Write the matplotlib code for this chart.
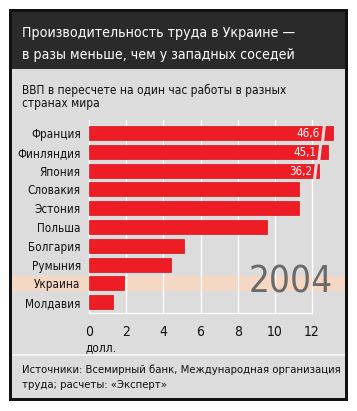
import matplotlib
matplotlib.use('Agg')
import matplotlib.pyplot as plt
from matplotlib.patches import Rectangle
from matplotlib.transforms import blended_transform_factory

plt.rcParams['font.family'] = ['DejaVu Sans']
plt.rcParams['font.stretch'] = 'condensed'

# данные
countries = ['Франция', 'Финляндия', 'Япония', 'Словакия', 'Эстония',
             'Польша', 'Болгария', 'Румыния', 'Украина', 'Молдавия']
gdp_hour = [46.6, 45.1, 36.2, 11.3, 11.3, 9.6, 5.1, 4.4, 1.9, 1.3]
# как нарисованы "обрезанные" столбики: (где разрыв, где конец)
broken = {'Франция': (12.55, 13.15), 'Финляндия': (12.35, 12.88), 'Япония': (12.12, 12.35)}
labels = {'Франция': '46,6', 'Финляндия': '45,1', 'Япония': '36,2'}
ticks = [0, 2, 4, 6, 8, 10, 12]
highlight = 'Украина'

W, H = 357, 411
fig = plt.figure(figsize=(W / 100, H / 100), dpi=100)
fig.patch.set_facecolor('white')

def box(x0, y0, x1, y1, color):
    # прямоугольник в пикселях (сверху вниз)
    fig.patches.append(Rectangle((x0 / W, 1 - y1 / H), (x1 - x0) / W, (y1 - y0) / H,
                                 transform=fig.transFigure, facecolor=color,
                                 edgecolor='none', zorder=-5))

def txt(x, y, s, size, color='#111111', **kw):
    fig.text(x / W, 1 - y / H, s, color=color, fontsize=size, va='baseline', ha='left', **kw)

panel = '#dcdcdc'
box(9, 9, 348, 401, '#111111')
box(12, 69, 345, 398, panel)
box(12, 12, 345, 69, '#2a2a2a')
box(12, 354, 345, 355.5, '#f2f2f2')

txt(22, 37, 'Производительность труда в Украине —', 10.2, 'white')
txt(22, 59, 'в разы меньше, чем у западных соседей', 10.2, 'white')
txt(22, 94, 'ВВП в пересчете на один час работы в разных', 8.6)
txt(22, 107, 'странах мира', 8.6)
txt(22, 373, 'Источники: Всемирный банк, Международная организация', 8.1)
txt(22, 388, 'труда; расчеты: «Эксперт»', 8.1)

# оси: 0 -> 89px, 12 -> 312px
unit = (312 - 89) / 12
xmax = 13.6
top, bottom, pitch = 120, 313, 18.8
ax = fig.add_axes([89 / W, 1 - bottom / H, xmax * unit / W, (bottom - top) / H])
ax.set_facecolor('none')
ax.set_xlim(0, xmax)
ylo = -(133 - top) / pitch
yhi = 9 + (bottom - 302.2) / pitch
ax.set_ylim(yhi, ylo)
for s in ax.spines.values():
    s.set_visible(False)

# подсветка строки Украины
yi = countries.index(highlight)
tr = blended_transform_factory(fig.transFigure, ax.transData)
ax.add_patch(Rectangle((12 / W, yi - 0.38), 333 / W, 0.76, transform=tr,
                       facecolor='#f5d8c4', edgecolor='none', clip_on=False, zorder=0))

# сетка
for t in ticks:
    ax.plot([t, t], [ylo, yhi], color='white', lw=1, zorder=1, clip_on=False)
ax.plot([0, 12], [yhi, yhi], color='white', lw=1, zorder=1, clip_on=False)

red = '#ee1c25'
for i, (c, v) in enumerate(zip(countries, gdp_hour)):
    length = broken[c][1] if c in broken else v
    ax.barh(i, length, height=0.74, color=red, edgecolor='#d0101a', lw=0.5, zorder=2, clip_on=False)
    if c in broken:
        b = broken[c][0]
        ax.plot([b + 0.02, b + 0.12], [i + 0.45, i - 0.45], color=panel, lw=2.2,
                zorder=3, solid_capstyle='butt', clip_on=False)
        ax.text(b - 0.12, i + 0.05, labels[c], color='white', fontsize=8.3,
                ha='right', va='center', zorder=4)

ax.set_yticks(range(len(countries)))
ax.set_yticklabels(countries, fontsize=8.4, color='#111111')
ax.set_xticks(ticks)
ax.set_xticklabels([str(t) for t in ticks], fontsize=10, color='#111111')
ax.tick_params(length=0)
ax.tick_params(axis='y', pad=6)
ax.tick_params(axis='x', pad=9)

txt(85, 351, 'долл.', 8.6)
fig.text(333 / W, 1 - 292 / H, '2004', color='#6a6a6a', fontsize=26.5, va='baseline',
         ha='right', fontweight='light')

fig.savefig('out.png', dpi=100)
